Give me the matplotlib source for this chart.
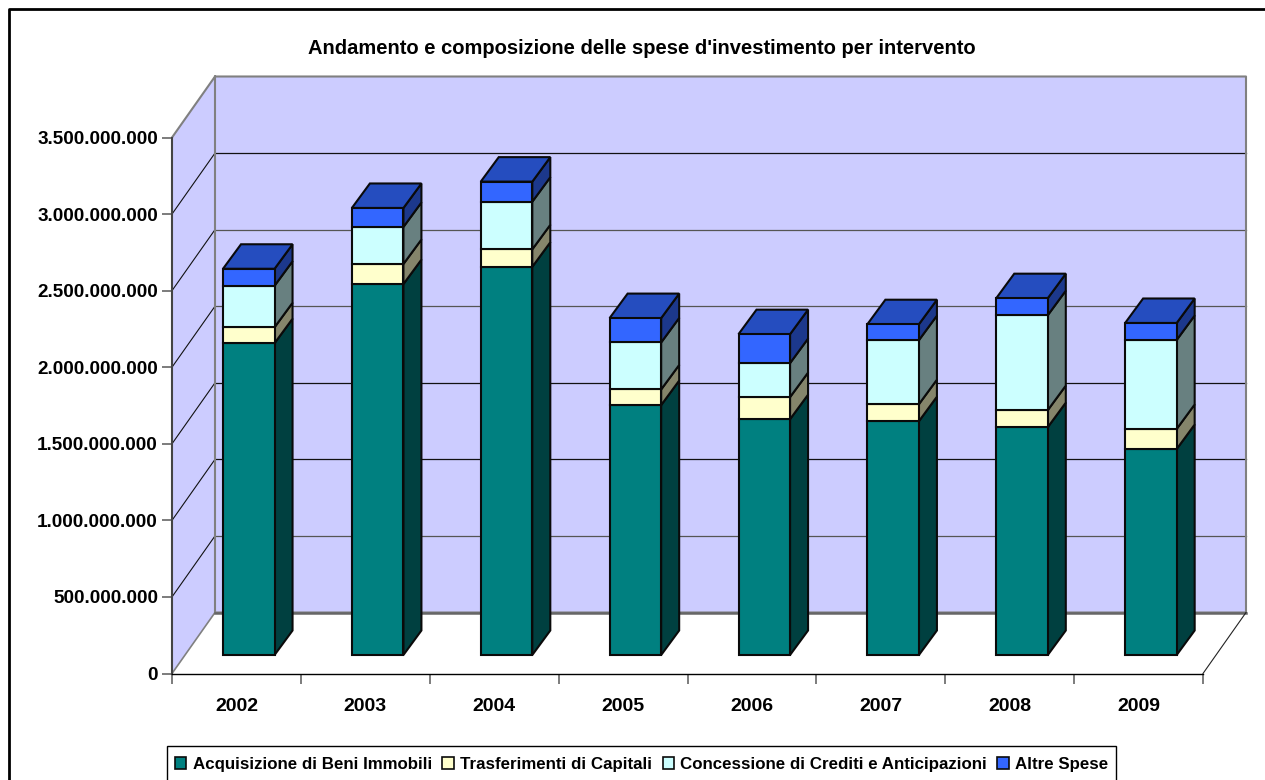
import matplotlib
matplotlib.use('Agg')

import matplotlib.pyplot as plt
from matplotlib.patches import Polygon, Patch, Rectangle

years = ['2002', '2003', '2004', '2005', '2006', '2007', '2008', '2009']
immobili = [2036e6, 2422e6, 2535e6, 1632e6, 1540e6, 1527e6, 1488e6, 1345e6]
trasferimenti = [104e6, 131e6, 114e6, 102e6, 144e6, 111e6, 111e6, 131e6]
crediti = [271e6, 242e6, 311e6, 307e6, 222e6, 418e6, 620e6, 581e6]
altre = [111e6, 124e6, 131e6, 159e6, 189e6, 104e6, 111e6, 111e6]
series = [immobili, trasferimenti, crediti, altre]
names = ['Acquisizione di Beni Immobili', 'Trasferimenti di Capitali',
         'Concessione di Crediti e Anticipazioni', 'Altre Spese']
front = ['#008080', '#FFFFCC', '#CCFFFF', '#3366FF']
side = ['#004040', '#85856B', '#688080', '#1C388C']
top_col = '#254DBF'
yticks = [0, 500e6, 1000e6, 1500e6, 2000e6, 2500e6, 3000e6, 3500e6]
ylabels = ['0', '500.000.000', '1.000.000.000', '1.500.000.000', '2.000.000.000',
           '2.500.000.000', '3.000.000.000', '3.500.000.000']

W, H = 1265, 780
plt.rcParams['font.family'] = ['Liberation Sans', 'DejaVu Sans']
fig = plt.figure(figsize=(W / 100, H / 100), dpi=100)
ax = fig.add_axes([172 / W, 1 - 673.5 / H, 1031 / W, 536 / H])
ax.set_xlim(0, 8)
ax.set_ylim(0, 3.5e9)
ax.patch.set_visible(False)

# pixel sizes in data units
px = 8 / 1031.0
py = 3.5e9 / 536.0
wall_dx, wall_dy = 43 * px, 61 * py
bar_dx, bar_dy = 18 * px, 24.5 * py
off_x, off_y = 51 * px - 0.5 + 0.2, 18.5 * py
bar_w = 0.4

# walls
ax.add_patch(Polygon([(0, 0), (wall_dx, wall_dy), (wall_dx, 3.5e9 + wall_dy), (0, 3.5e9)],
                     fc='#CCCCFF', ec='none', clip_on=False, zorder=1))
ax.add_patch(Rectangle((wall_dx, wall_dy), 8, 3.5e9, fc='#CCCCFF', ec='none', clip_on=False, zorder=1))
for n, v in enumerate(yticks[1:-1]):
    col = '#555555' if v in (500e6, 2000e6, 2500e6) else '#111111'
    ax.plot([0, wall_dx], [v, v + wall_dy], color='#111111', lw=0.8, clip_on=False, zorder=2)
    ax.plot([wall_dx, 8 + wall_dx], [v + wall_dy, v + wall_dy], color=col, lw=0.9, clip_on=False, zorder=2)
g = '#808080'
ax.plot([0, wall_dx, 8 + wall_dx, 8 + wall_dx, wall_dx, wall_dx],
        [3.5e9, 3.5e9 + wall_dy, 3.5e9 + wall_dy, wall_dy, wall_dy, 3.5e9 + wall_dy],
        color=g, lw=1.5, clip_on=False, zorder=2)
ax.plot([0, wall_dx], [0, wall_dy], color=g, lw=1.2, clip_on=False, zorder=2)
ax.plot([wall_dx, 8 + wall_dx], [wall_dy, wall_dy], color='#666666', lw=1.8, clip_on=False, zorder=2)
ax.plot([8, 8 + wall_dx], [0, wall_dy], color='#222222', lw=0.8, clip_on=False, zorder=2)

# stacked bars
for i in range(len(years)):
    x0 = i + 0.5 + off_x - bar_w / 2
    x1 = x0 + bar_w
    bottom = off_y
    for s in range(4):
        val = series[s][i]
        ax.add_patch(Polygon([(x1, bottom), (x1 + bar_dx, bottom + bar_dy),
                              (x1 + bar_dx, bottom + val + bar_dy), (x1, bottom + val)],
                             fc=side[s], ec='#0a0a0a', lw=1.5, clip_on=False, zorder=3))
        ax.bar(x0, val, bar_w, bottom=bottom, align='edge', color=front[s], edgecolor='#0a0a0a',
               linewidth=1.5, clip_on=False, zorder=4)
        bottom += val
    ax.add_patch(Polygon([(x0, bottom), (x1, bottom), (x1 + bar_dx, bottom + bar_dy), (x0 + bar_dx, bottom + bar_dy)],
                         fc=top_col, ec='#0a0a0a', lw=1.5, clip_on=False, zorder=3))

# axes
for k in ['top', 'right']:
    ax.spines[k].set_visible(False)
ax.spines['left'].set_color('#444444')
ax.spines['left'].set_linewidth(1.5)
ax.spines['bottom'].set_color('black')
ax.spines['bottom'].set_linewidth(1.0)
ax.spines['left'].set_zorder(5)
ax.spines['bottom'].set_zorder(5)
ax.set_yticks(yticks)
ax.set_yticklabels(ylabels, fontsize=13.6, fontweight='bold')
ax.set_xticks(range(9))
ax.set_xticklabels([])
ax.set_xticks([i + 0.5 for i in range(8)], minor=True)
ax.set_xticklabels(years, minor=True, fontsize=14, fontweight='bold')
ax.tick_params(axis='x', which='minor', length=0, pad=17.5)
ax.tick_params(axis='x', which='major', length=7.2, width=1.2, color='#666666')
ax.tick_params(axis='y', length=7.2, width=1.2, color='#666666', pad=2.9)

fig.text(642 / W, 1 - 48.5 / H, "Andamento e composizione delle spese d'investimento per intervento",
         fontsize=14.5, fontweight='bold', ha='center', va='center')

# outer frame, runs off the right and bottom of the picture
fig.add_artist(plt.Line2D([9 / W, 9 / W, 1], [0, 1 - 9 / H, 1 - 9 / H], color='black', lw=2))

# legend box also runs off the bottom
fig.add_artist(Rectangle((167 / W, -5 / H), 949 / W, (780 - 746 + 5) / H, transform=fig.transFigure,
                         fc='white', ec='black', lw=1.0))
handles = [Patch(fc=front[s], ec='#0a0a0a', lw=1.2) for s in range(4)]
leg = fig.legend(handles, names, ncols=4, loc='center left', bbox_to_anchor=(175 / W, 1 - 764.5 / H),
                 prop={'size': 12.2, 'weight': 'bold'}, frameon=False,
                 handlelength=0.66, handleheight=0.66, handletextpad=0.4,
                 columnspacing=0.6, borderpad=0, borderaxespad=0)
leg.set_zorder(10)

fig.savefig('out.png', dpi=100, facecolor='white')
